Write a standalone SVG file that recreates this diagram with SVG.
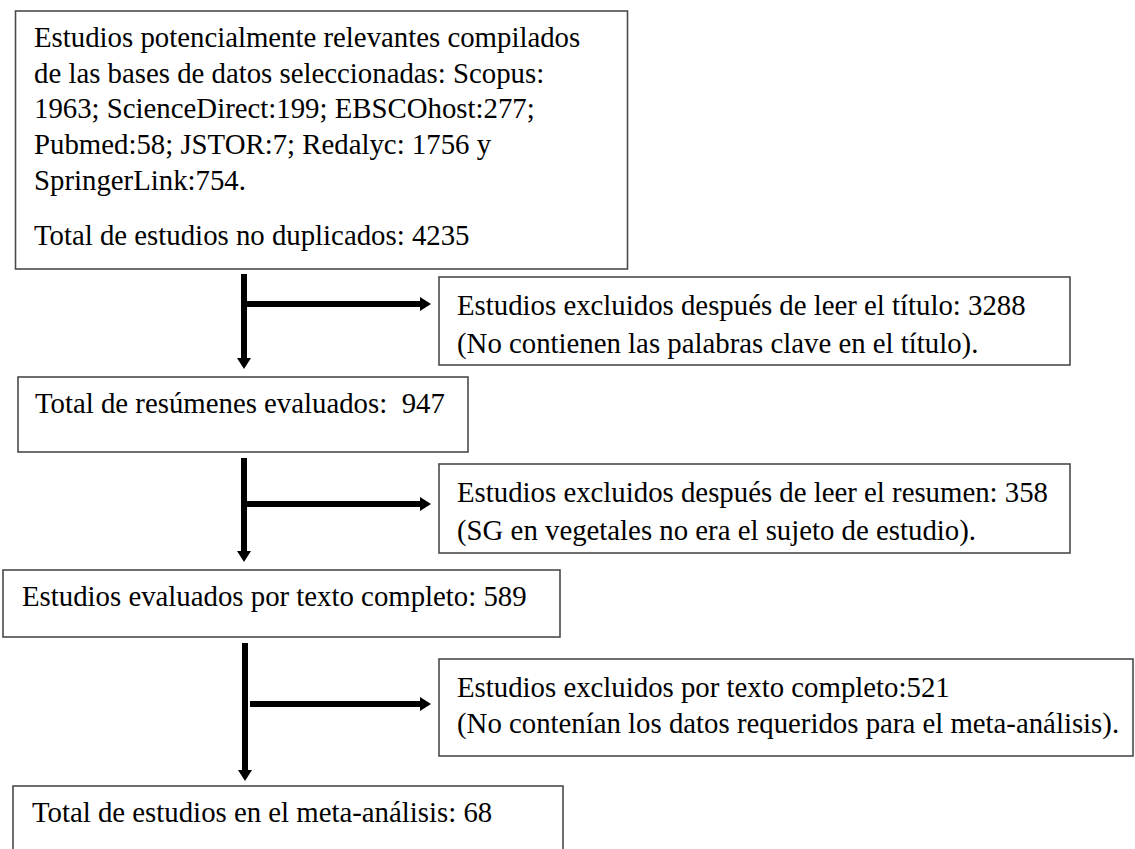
<svg xmlns="http://www.w3.org/2000/svg" width="1135" height="849" viewBox="0 0 1135 849">
<style>
  .box { fill: #ffffff; stroke: #4a4a4a; stroke-width: 1.6; }
  .t { font-family: "Liberation Serif", "Times New Roman", serif; font-size: 28.8px; fill: #000; white-space: pre; }
  .arr { stroke: #000; stroke-width: 6; fill: none; stroke-linecap: butt; }
</style>
<defs>
  <marker id="head" markerUnits="userSpaceOnUse" markerWidth="12" markerHeight="14" refX="0" refY="7" orient="auto">
    <path d="M0,0 L11,7 L0,14 z" fill="#000"/>
  </marker>
</defs>
<rect width="1135" height="849" fill="#ffffff"/>

<g id="connectors">
  <line class="arr" x1="244" y1="274" x2="244" y2="358" marker-end="url(#head)"/>
  <line class="arr" x1="247" y1="304" x2="420" y2="304" marker-end="url(#head)"/>
  <line class="arr" x1="244" y1="458" x2="244" y2="551" marker-end="url(#head)"/>
  <line class="arr" x1="247" y1="504" x2="420" y2="504" marker-end="url(#head)"/>
  <line class="arr" x1="245" y1="643" x2="245" y2="770" marker-end="url(#head)"/>
  <line class="arr" x1="250" y1="704" x2="420" y2="704" marker-end="url(#head)"/>
</g>

<g id="n1">
  <rect class="box" x="15.5" y="11" width="612" height="258"/>
  <text class="t" x="34" y="47">Estudios potencialmente relevantes compilados</text>
  <text class="t" x="34" y="83">de las bases de datos seleccionadas: Scopus:</text>
  <text class="t" x="34" y="118">1963; ScienceDirect:199; EBSCOhost:277;</text>
  <text class="t" x="34" y="154">Pubmed:58; JSTOR:7; Redalyc: 1756 y</text>
  <text class="t" x="34" y="190">SpringerLink:754.</text>
  <text class="t" x="34" y="245">Total de estudios no duplicados: 4235</text>
</g>

<g id="n2">
  <rect class="box" x="439" y="277" width="631" height="88"/>
  <text class="t" x="457" y="315">Estudios excluidos después de leer el título: 3288</text>
  <text class="t" x="457" y="353">(No contienen las palabras clave en el título).</text>
</g>

<g id="n3">
  <rect class="box" x="18" y="377" width="450" height="75"/>
  <text class="t" x="35" y="413">Total de resúmenes evaluados:  947</text>
</g>

<g id="n4">
  <rect class="box" x="439" y="464" width="631" height="89"/>
  <text class="t" x="457" y="502">Estudios excluidos después de leer el resumen: 358</text>
  <text class="t" x="457" y="540">(SG en vegetales no era el sujeto de estudio).</text>
</g>

<g id="n5">
  <rect class="box" x="3" y="570" width="557" height="67"/>
  <text class="t" x="22" y="606">Estudios evaluados por texto completo: 589</text>
</g>

<g id="n6">
  <rect class="box" x="439" y="659" width="694" height="97"/>
  <text class="t" x="457" y="697">Estudios excluidos por texto completo:521</text>
  <text class="t" x="457" y="733">(No contenían los datos requeridos para el meta-análisis).</text>
</g>

<g id="n7">
  <rect class="box" x="13" y="786" width="550" height="90"/>
  <text class="t" x="32" y="822">Total de estudios en el meta-análisis: 68</text>
</g>
</svg>
